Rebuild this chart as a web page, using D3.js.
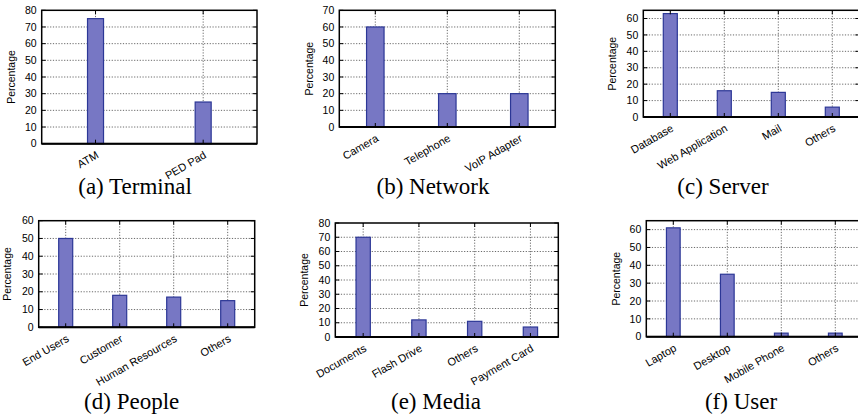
<!DOCTYPE html>
<html>
<head>
<meta charset="utf-8">
<script src="https://cdn.jsdelivr.net/npm/d3@7"></script>
<style>
  body { margin: 0; background: #fff; }
  svg { display: block; }
  .tick-label { font-family: "Liberation Sans", Arial, sans-serif; font-size: 10.5px; fill: #000; }
  .x-label { font-family: "Liberation Sans", Arial, sans-serif; font-size: 11px; fill: #000; }
</style>
</head>
<body>
<div id="chart"></div>
<script>
// data, one pair of arrays per panel
const terminalCats = ["ATM", "PED Pad"];
const terminalVals = [75, 25];

const networkCats = ["Camera", "Telephone", "VoIP Adapter"];
const networkVals = [60, 20, 20];

const serverCats = ["Database", "Web Application", "Mail", "Others"];
const serverVals = [63, 16, 15, 6];

const peopleCats = ["End Users", "Customer", "Human Resources", "Others"];
const peopleVals = [50, 18, 17, 15];

const mediaCats = ["Documents", "Flash Drive", "Others", "Payment Card"];
const mediaVals = [70, 12, 11, 7];

const userCats = ["Laptop", "Desktop", "Mobile Phone", "Others"];
const userVals = [61, 35, 2, 2];

const captions = ["(a) Terminal", "(b) Network", "(c) Server", "(d) People", "(e) Media", "(f) User"];
const yMaxes = [80, 70, 65, 60, 80, 65];

// layout of each panel (plot box + caption position)
const panels = [
    {cats: terminalCats, vals: terminalVals, x0: 41.7, x1: 257, y0: 10.3, y1: 143.7, bw: 16, lx: 11.7, cx: 135, cy: 193.5},
    {cats: networkCats, vals: networkVals, x0: 339.3, x1: 555.3, y0: 10.3, y1: 127, bw: 17.5, lx: 309, cx: 433, cy: 193.5},
    {cats: serverCats, vals: serverVals, x0: 643.3, x1: 859.3, y0: 10.3, y1: 117, bw: 14, lx: 612.3, cx: 723, cy: 193.5},
    {cats: peopleCats, vals: peopleVals, x0: 38.7, x1: 254.7, y0: 220.7, y1: 327.3, bw: 14, lx: 7.7, cx: 131.7, cy: 409},
    {cats: mediaCats, vals: mediaVals, x0: 335.3, x1: 558.3, y0: 223, y1: 337, bw: 14.3, lx: 304, cx: 436, cy: 409},
    {cats: userCats, vals: userVals, x0: 646.3, x1: 862.3, y0: 220.7, y1: 336.7, bw: 13.7, lx: 616.7, cx: 741, cy: 409}
];

const width = 858, height = 418;

const svg = d3.select("#chart").append("svg")
    .attr("width", width)
    .attr("height", height);

panels.forEach(function(p, i) {

    const x = d3.scalePoint()
        .domain(p.cats)
        .range([p.x0, p.x1])
        .padding(0.5);

    const y = d3.scaleLinear()
        .domain([0, yMaxes[i]])
        .range([p.y1, p.y0]);

    const yTicks = d3.range(0, yMaxes[i] + 1, 10);
    const g = svg.append("g").attr("class", "panel");

    // grid
    g.selectAll(".hgrid")
        .data(yTicks.filter(d => d > 0 && y(d) > p.y0 + 1))
        .enter().append("line")
        .attr("x1", p.x0).attr("x2", p.x1)
        .attr("y1", d => y(d)).attr("y2", d => y(d))
        .attr("stroke", "#444")
        .attr("stroke-width", 0.8)
        .attr("stroke-dasharray", "1.2,1.6");

    g.selectAll(".vgrid")
        .data(p.cats)
        .enter().append("line")
        .attr("x1", d => x(d)).attr("x2", d => x(d))
        .attr("y1", p.y0).attr("y2", p.y1)
        .attr("stroke", "#444")
        .attr("stroke-width", 0.8)
        .attr("stroke-dasharray", "1.2,1.6");

    // bars
    g.selectAll(".bar")
        .data(p.cats)
        .enter().append("rect")
        .attr("x", d => x(d) - p.bw / 2)
        .attr("y", (d, j) => y(p.vals[j]))
        .attr("width", p.bw)
        .attr("height", (d, j) => y(0) - y(p.vals[j]))
        .attr("fill", "#7777c4")
        .attr("stroke", "#2c3796")
        .attr("stroke-width", 1.2);

    // ticks (inward, mirrored)
    yTicks.forEach(function(t) {
        g.append("line").attr("x1", p.x0).attr("x2", p.x0 + 4)
            .attr("y1", y(t)).attr("y2", y(t)).attr("stroke", "#000");
        g.append("line").attr("x1", p.x1).attr("x2", p.x1 - 4)
            .attr("y1", y(t)).attr("y2", y(t)).attr("stroke", "#000");
    });
    p.cats.forEach(function(c) {
        g.append("line").attr("x1", x(c)).attr("x2", x(c))
            .attr("y1", p.y1).attr("y2", p.y1 - 4).attr("stroke", "#000");
        g.append("line").attr("x1", x(c)).attr("x2", x(c))
            .attr("y1", p.y0).attr("y2", p.y0 + 4).attr("stroke", "#000");
    });

    // frame
    g.append("rect")
        .attr("x", p.x0).attr("y", p.y0)
        .attr("width", p.x1 - p.x0).attr("height", p.y1 - p.y0)
        .attr("fill", "none")
        .attr("stroke", "#000")
        .attr("stroke-width", 1.5);
    g.append("line")
        .attr("x1", p.x0).attr("x2", p.x1)
        .attr("y1", y(0)).attr("y2", y(0))
        .attr("stroke", "#000")
        .attr("stroke-width", 2);

    // y tick labels
    g.selectAll(".ylab")
        .data(yTicks)
        .enter().append("text")
        .attr("class", "tick-label")
        .attr("x", p.x0 - 5)
        .attr("y", d => y(d))
        .attr("dy", "0.35em")
        .attr("text-anchor", "end")
        .text(d => d);

    // y axis title
    g.append("text")
        .attr("class", "tick-label")
        .attr("transform", "translate(" + p.lx + "," + ((p.y0 + p.y1) / 2) + ") rotate(-90)")
        .attr("text-anchor", "middle")
        .attr("dy", "0.35em")
        .text("Percentage");

    // x tick labels, rotated
    g.selectAll(".xlab")
        .data(p.cats)
        .enter().append("text")
        .attr("class", "x-label")
        .attr("transform", d => "translate(" + (x(d) + 4) + "," + (p.y1 + 13.5) + ") rotate(-30)")
        .attr("text-anchor", "end")
        .text(d => d);

    // caption
    g.append("text")
        .attr("x", p.cx)
        .attr("y", p.cy)
        .attr("text-anchor", "middle")
        .style("font-family", "'Liberation Serif', 'DejaVu Serif', serif")
        .style("font-size", "23px")
        .style("fill", "#000")
        .text(captions[i]);
});
</script>
</body>
</html>
